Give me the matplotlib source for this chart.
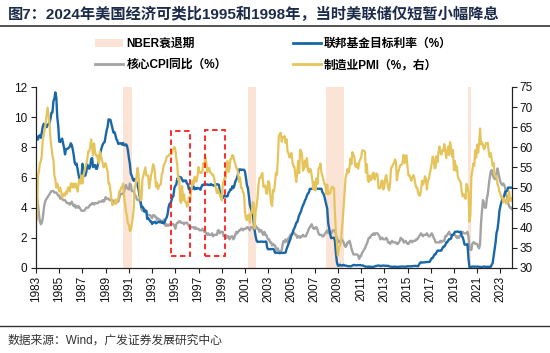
import numpy as np
import matplotlib
matplotlib.use("Agg")
import matplotlib.pyplot as plt
from matplotlib.patches import Rectangle, Patch
from matplotlib.lines import Line2D

plt.rcParams['font.family'] = ['Liberation Sans', 'Noto Sans CJK SC', 'DejaVu Sans']

start_year = 1983
end_year = 2023

# Effective federal funds rate, monthly, 1983-2023 (%)
ffr = [
    8.68, 8.51, 8.77, 8.80, 8.63, 8.98, 9.37, 9.56, 9.45, 9.48, 9.34, 9.47,
    9.56, 9.59, 9.91, 10.29, 10.32, 11.06, 11.23, 11.64, 11.30, 9.99, 9.43, 8.38,
    8.35, 8.50, 8.58, 8.27, 7.97, 7.53, 7.88, 7.90, 7.92, 7.99, 8.05, 8.27,
    8.14, 7.86, 7.48, 6.99, 6.85, 6.92, 6.56, 6.17, 5.89, 5.85, 6.04, 6.91,
    6.43, 6.10, 6.13, 6.37, 6.85, 6.73, 6.58, 6.73, 7.22, 7.29, 6.69, 6.77,
    6.83, 6.58, 6.58, 6.87, 7.09, 7.51, 7.75, 8.01, 8.19, 8.30, 8.35, 8.76,
    9.12, 9.36, 9.85, 9.84, 9.81, 9.53, 9.24, 8.99, 9.02, 8.84, 8.55, 8.45,
    8.23, 8.24, 8.28, 8.26, 8.18, 8.29, 8.15, 8.13, 8.20, 8.11, 7.81, 7.31,
    6.91, 6.25, 6.12, 5.91, 5.78, 5.90, 5.82, 5.66, 5.45, 5.21, 4.81, 4.43,
    4.03, 4.06, 3.98, 3.73, 3.82, 3.76, 3.25, 3.30, 3.22, 3.10, 3.09, 2.92,
    3.02, 3.03, 3.07, 2.96, 3.00, 3.04, 3.06, 3.03, 3.09, 2.99, 3.02, 2.96,
    3.05, 3.25, 3.34, 3.56, 4.01, 4.25, 4.26, 4.47, 4.73, 4.76, 5.29, 5.45,
    5.53, 5.92, 5.98, 6.05, 6.01, 6.00, 5.85, 5.74, 5.80, 5.76, 5.80, 5.60,
    5.56, 5.22, 5.31, 5.22, 5.24, 5.27, 5.40, 5.22, 5.30, 5.24, 5.31, 5.29,
    5.25, 5.19, 5.39, 5.51, 5.50, 5.56, 5.52, 5.54, 5.54, 5.50, 5.52, 5.50,
    5.56, 5.51, 5.49, 5.45, 5.49, 5.56, 5.54, 5.55, 5.51, 5.07, 4.83, 4.68,
    4.63, 4.76, 4.81, 4.74, 4.74, 4.76, 4.99, 5.07, 5.22, 5.20, 5.42, 5.30,
    5.45, 5.73, 5.85, 6.02, 6.27, 6.53, 6.54, 6.50, 6.52, 6.51, 6.51, 6.40,
    5.98, 5.49, 5.31, 4.80, 4.21, 3.97, 3.77, 3.65, 3.07, 2.49, 2.09, 1.82,
    1.73, 1.74, 1.73, 1.75, 1.75, 1.75, 1.73, 1.74, 1.75, 1.75, 1.34, 1.24,
    1.24, 1.26, 1.25, 1.26, 1.26, 1.22, 1.01, 1.03, 1.01, 1.01, 1.00, 0.98,
    1.00, 1.01, 1.00, 1.00, 1.00, 1.03, 1.26, 1.43, 1.61, 1.76, 1.93, 2.16,
    2.28, 2.50, 2.63, 2.79, 3.00, 3.04, 3.26, 3.50, 3.62, 3.78, 4.00, 4.16,
    4.29, 4.49, 4.59, 4.79, 4.94, 4.99, 5.24, 5.25, 5.25, 5.25, 5.25, 5.24,
    5.25, 5.26, 5.26, 5.25, 5.25, 5.25, 5.26, 5.02, 4.94, 4.76, 4.49, 4.24,
    3.94, 2.98, 2.61, 2.28, 1.98, 2.00, 2.01, 2.00, 1.81, 0.97, 0.39, 0.16,
    0.15, 0.22, 0.18, 0.15, 0.18, 0.21, 0.16, 0.16, 0.15, 0.12, 0.12, 0.12,
    0.11, 0.13, 0.16, 0.20, 0.20, 0.18, 0.18, 0.19, 0.19, 0.19, 0.19, 0.18,
    0.17, 0.16, 0.14, 0.10, 0.09, 0.09, 0.07, 0.10, 0.08, 0.07, 0.08, 0.07,
    0.08, 0.10, 0.13, 0.14, 0.16, 0.16, 0.16, 0.13, 0.14, 0.16, 0.16, 0.16,
    0.14, 0.15, 0.14, 0.15, 0.11, 0.09, 0.09, 0.08, 0.08, 0.09, 0.08, 0.09,
    0.07, 0.07, 0.08, 0.09, 0.09, 0.10, 0.09, 0.09, 0.09, 0.09, 0.09, 0.12,
    0.11, 0.11, 0.11, 0.12, 0.12, 0.13, 0.13, 0.14, 0.14, 0.12, 0.12, 0.24,
    0.34, 0.38, 0.36, 0.37, 0.37, 0.38, 0.39, 0.40, 0.40, 0.40, 0.41, 0.54,
    0.65, 0.66, 0.79, 0.90, 0.91, 1.04, 1.15, 1.16, 1.15, 1.15, 1.16, 1.30,
    1.41, 1.42, 1.51, 1.69, 1.70, 1.82, 1.91, 1.91, 1.95, 2.19, 2.20, 2.27,
    2.40, 2.40, 2.41, 2.42, 2.39, 2.38, 2.40, 2.13, 2.04, 1.83, 1.55, 1.55,
    1.55, 1.58, 0.65, 0.05, 0.05, 0.08, 0.09, 0.10, 0.09, 0.09, 0.09, 0.09,
    0.09, 0.08, 0.07, 0.07, 0.06, 0.08, 0.10, 0.09, 0.08, 0.08, 0.08, 0.08,
    0.08, 0.08, 0.20, 0.33, 0.77, 1.21, 1.68, 2.33, 2.56, 3.08, 3.78, 4.10,
    4.33, 4.57, 4.65, 4.83, 5.06, 5.08, 5.12, 5.33, 5.33, 5.33, 5.33, 5.33,
]

# Core CPI, year over year, monthly, 1983-2023 (%)
core_cpi = [
    4.7, 4.2, 3.6, 3.1, 2.9, 3.0, 3.3, 3.9, 4.3, 4.5, 4.6, 4.7,
    4.8, 4.9, 5.0, 5.1, 5.1, 5.1, 5.0, 5.0, 5.0, 4.9, 4.8, 4.8,
    4.6, 4.7, 4.6, 4.5, 4.5, 4.5, 4.4, 4.3, 4.3, 4.3, 4.2, 4.3,
    4.4, 4.2, 4.1, 4.2, 4.0, 4.1, 4.0, 4.1, 4.0, 3.9, 3.8, 3.8,
    3.8, 3.8, 3.9, 4.0, 4.0, 4.0, 4.1, 4.2, 4.2, 4.3, 4.3, 4.2,
    4.3, 4.3, 4.3, 4.3, 4.4, 4.4, 4.4, 4.4, 4.5, 4.4, 4.5, 4.7,
    4.6, 4.6, 4.6, 4.5, 4.5, 4.5, 4.5, 4.4, 4.4, 4.3, 4.4, 4.4,
    4.4, 4.6, 4.9, 4.9, 4.9, 5.0, 5.0, 5.4, 5.5, 5.3, 5.3, 5.2,
    5.6, 5.5, 5.1, 5.1, 5.1, 4.8, 4.8, 4.6, 4.5, 4.5, 4.5, 4.4,
    3.9, 3.8, 3.9, 3.9, 3.8, 3.8, 3.6, 3.5, 3.5, 3.5, 3.4, 3.3,
    3.5, 3.5, 3.4, 3.4, 3.2, 3.3, 3.2, 3.2, 3.1, 3.0, 3.1, 3.2,
    2.9, 2.8, 2.9, 2.8, 2.8, 2.9, 2.9, 2.9, 2.9, 2.9, 2.8, 2.6,
    2.9, 3.0, 3.0, 3.1, 3.1, 3.0, 3.0, 3.0, 2.9, 3.0, 3.0, 3.0,
    2.9, 2.8, 2.7, 2.7, 2.7, 2.7, 2.7, 2.6, 2.7, 2.6, 2.6, 2.6,
    2.5, 2.5, 2.5, 2.6, 2.5, 2.4, 2.4, 2.3, 2.2, 2.3, 2.2, 2.2,
    2.2, 2.3, 2.1, 2.2, 2.2, 2.2, 2.2, 2.5, 2.5, 2.3, 2.4, 2.4,
    2.4, 2.1, 2.1, 2.2, 2.0, 2.1, 2.1, 1.9, 2.0, 2.1, 2.1, 1.9,
    2.0, 2.2, 2.4, 2.3, 2.4, 2.5, 2.5, 2.6, 2.6, 2.5, 2.6, 2.6,
    2.6, 2.7, 2.7, 2.6, 2.5, 2.7, 2.7, 2.7, 2.6, 2.6, 2.8, 2.7,
    2.6, 2.6, 2.4, 2.5, 2.5, 2.3, 2.2, 2.4, 2.2, 2.2, 2.0, 1.9,
    1.9, 1.7, 1.7, 1.5, 1.6, 1.5, 1.5, 1.3, 1.2, 1.3, 1.1, 1.1,
    1.1, 1.2, 1.6, 1.8, 1.7, 1.9, 1.8, 1.7, 2.0, 2.0, 2.2, 2.2,
    2.3, 2.4, 2.3, 2.2, 2.2, 2.0, 2.1, 2.1, 2.0, 2.1, 2.1, 2.2,
    2.1, 2.1, 2.1, 2.3, 2.4, 2.6, 2.7, 2.8, 2.9, 2.7, 2.6, 2.6,
    2.7, 2.7, 2.5, 2.3, 2.2, 2.2, 2.2, 2.1, 2.1, 2.2, 2.3, 2.4,
    2.5, 2.3, 2.4, 2.3, 2.3, 2.4, 2.5, 2.5, 2.5, 2.2, 2.0, 1.8,
    1.7, 1.8, 1.8, 1.9, 1.8, 1.7, 1.5, 1.4, 1.5, 1.7, 1.7, 1.8,
    1.6, 1.3, 1.1, 0.9, 0.9, 0.9, 0.9, 0.9, 0.8, 0.6, 0.8, 0.8,
    1.0, 1.1, 1.2, 1.3, 1.5, 1.6, 1.8, 2.0, 2.0, 2.1, 2.2, 2.2,
    2.3, 2.2, 2.3, 2.3, 2.3, 2.2, 2.1, 1.9, 2.0, 2.0, 1.9, 1.9,
    1.9, 2.0, 1.9, 1.7, 1.7, 1.6, 1.7, 1.8, 1.7, 1.7, 1.7, 1.7,
    1.6, 1.6, 1.7, 1.8, 2.0, 1.9, 1.9, 1.7, 1.7, 1.8, 1.7, 1.6,
    1.6, 1.7, 1.8, 1.8, 1.7, 1.8, 1.8, 1.8, 1.9, 1.9, 2.0, 2.1,
    2.2, 2.3, 2.2, 2.1, 2.2, 2.2, 2.2, 2.3, 2.2, 2.1, 2.1, 2.2,
    2.3, 2.2, 2.0, 1.9, 1.7, 1.7, 1.7, 1.7, 1.7, 1.8, 1.7, 1.8,
    1.8, 1.8, 2.1, 2.1, 2.2, 2.3, 2.4, 2.2, 2.2, 2.1, 2.2, 2.2,
    2.2, 2.1, 2.0, 2.1, 2.0, 2.1, 2.2, 2.4, 2.4, 2.3, 2.3, 2.3,
    2.3, 2.4, 2.1, 1.4, 1.2, 1.2, 1.6, 1.7, 1.7, 1.6, 1.6, 1.6,
    1.4, 1.3, 1.6, 3.0, 3.8, 4.5, 4.3, 4.0, 4.0, 4.6, 4.9, 5.5,
    6.0, 6.4, 6.5, 6.2, 6.0, 5.9, 5.9, 6.3, 6.6, 6.3, 6.0, 5.7,
    5.6, 5.5, 5.6, 5.5, 5.3, 4.8, 4.7, 4.3, 4.1, 4.0, 4.0, 3.9,
]

# ISM manufacturing PMI, monthly, 1983-2023 (right axis)
pmi = [
    42.0, 53.0, 54.0, 56.0, 56.5, 58.0, 62.0, 63.0, 64.5, 66.0, 68.0, 69.9,
    68.0, 66.0, 62.0, 60.0, 58.0, 57.0, 53.0, 52.0, 50.0, 51.0, 50.0, 49.0,
    50.0, 49.0, 47.5, 48.0, 48.5, 48.0, 49.0, 48.5, 50.0, 50.0, 49.0, 51.0,
    51.0, 50.0, 51.0, 50.0, 51.0, 50.0, 49.0, 51.0, 52.0, 51.0, 53.0, 51.0,
    53.0, 54.0, 55.0, 56.0, 57.0, 59.0, 59.0, 60.0, 62.0, 60.0, 58.0, 61.0,
    59.0, 58.0, 58.0, 57.0, 56.0, 59.0, 58.0, 57.0, 56.0, 55.0, 56.0, 56.0,
    55.0, 54.0, 51.0, 51.0, 49.0, 47.0, 45.6, 46.0, 46.0, 47.0, 46.0, 47.0,
    47.0, 49.0, 49.0, 50.0, 50.0, 51.0, 48.0, 46.0, 44.0, 43.0, 41.0, 40.8,
    39.2, 39.4, 40.7, 42.7, 44.5, 50.3, 50.6, 52.9, 54.9, 53.1, 49.5, 46.8,
    47.0, 52.0, 53.0, 54.0, 55.0, 53.0, 53.0, 53.0, 49.8, 51.5, 53.1, 54.2,
    55.8, 55.2, 53.4, 50.2, 51.2, 49.6, 50.2, 50.7, 50.8, 53.4, 53.8, 55.6,
    56.0, 56.5, 57.6, 57.8, 57.8, 58.3, 58.3, 58.2, 59.3, 59.6, 60.1, 59.4,
    57.3, 55.7, 51.8, 52.4, 46.6, 46.2, 50.4, 46.9, 48.3, 46.5, 46.5, 45.3,
    45.6, 47.6, 46.4, 48.5, 50.3, 51.7, 50.9, 52.7, 51.5, 51.6, 53.0, 55.1,
    53.7, 53.8, 53.6, 54.2, 56.1, 55.6, 57.5, 56.4, 53.8, 54.4, 54.9, 53.8,
    53.6, 53.2, 53.2, 52.5, 51.0, 49.7, 48.6, 49.6, 48.8, 48.2, 47.5, 46.8,
    50.6, 51.7, 52.4, 52.3, 55.2, 56.6, 53.9, 54.7, 57.0, 57.2, 58.1, 57.8,
    56.7, 55.8, 54.9, 54.7, 53.2, 51.4, 52.5, 49.9, 49.9, 48.7, 48.5, 43.9,
    42.3, 41.9, 43.1, 43.2, 41.3, 43.6, 43.6, 46.4, 46.2, 39.8, 44.1, 45.3,
    47.5, 50.7, 52.4, 52.4, 53.1, 53.6, 50.2, 50.3, 50.5, 48.5, 48.5, 51.6,
    51.3, 48.8, 46.1, 45.4, 49.4, 49.0, 51.0, 53.7, 53.1, 57.0, 62.8, 63.4,
    63.6, 61.4, 62.5, 62.4, 62.8, 61.1, 62.0, 59.0, 58.5, 57.5, 57.8, 58.6,
    56.4, 55.3, 55.2, 53.3, 51.4, 53.8, 56.6, 53.6, 59.4, 59.1, 58.1, 54.2,
    54.8, 56.7, 55.2, 57.3, 54.4, 53.8, 54.7, 54.5, 52.9, 51.2, 49.5, 51.4,
    49.3, 52.3, 50.9, 54.7, 55.0, 56.0, 53.8, 52.9, 52.0, 50.9, 50.8, 48.4,
    50.7, 48.3, 48.6, 48.6, 49.6, 50.2, 50.0, 49.9, 43.5, 38.9, 36.2, 33.1,
    34.9, 35.5, 36.0, 39.5, 41.7, 45.3, 49.1, 52.4, 53.4, 54.6, 53.7, 54.9,
    57.2, 55.8, 58.8, 58.1, 57.8, 55.3, 55.1, 56.0, 54.7, 56.3, 57.0, 57.3,
    59.0, 59.3, 59.1, 58.9, 53.7, 55.8, 51.9, 51.4, 53.0, 51.8, 52.2, 53.5,
    53.7, 52.0, 53.0, 53.5, 53.2, 49.9, 49.8, 49.9, 51.7, 51.7, 49.5, 50.2,
    52.3, 53.1, 51.5, 50.0, 49.3, 51.1, 54.9, 55.0, 55.8, 56.0, 57.0, 56.5,
    51.8, 53.4, 54.4, 55.3, 55.6, 55.7, 56.4, 58.1, 56.1, 57.9, 58.0, 55.1,
    53.0, 53.1, 52.3, 51.7, 52.6, 53.1, 52.5, 51.0, 50.0, 50.0, 48.8, 48.0,
    48.0, 49.5, 51.7, 50.7, 51.4, 52.8, 52.3, 49.5, 51.7, 52.0, 53.5, 54.5,
    56.0, 57.7, 57.2, 54.8, 54.9, 57.8, 56.3, 58.8, 60.2, 58.7, 58.2, 59.3,
    59.1, 60.8, 59.3, 57.3, 58.7, 60.2, 58.1, 61.3, 59.8, 57.7, 59.3, 54.3,
    56.6, 54.2, 55.3, 52.8, 52.1, 51.7, 51.2, 49.1, 47.8, 48.3, 48.1, 47.2,
    50.9, 50.1, 49.1, 41.5, 43.1, 52.6, 54.2, 56.0, 55.4, 59.3, 57.5, 60.7,
    58.7, 60.8, 64.7, 60.7, 61.2, 60.6, 59.5, 59.9, 61.1, 60.8, 61.1, 58.8,
    57.6, 58.6, 57.1, 55.4, 56.1, 53.0, 52.8, 52.8, 50.9, 50.2, 49.0, 48.4,
    47.4, 47.7, 46.3, 47.1, 46.9, 46.0, 46.4, 47.6, 49.0, 46.7, 46.7, 47.4,
]

# NBER recessions (start, end) in fractional years
recessions = [(1990.5, 1991.25), (2001.25, 2001.95), (2008.0, 2009.55), (2020.25, 2020.45)]
# Highlight boxes (x0, x1, y0, y1) on left axis
highlights = [(1994.6, 1996.3, 0.8, 9.1), (1997.55, 1999.3, 0.8, 9.15)]

xtick_years = list(range(1983, 2024, 2))

title = "图7：2024年美国经济可类比1995和1998年，当时美联储仅短暂小幅降息"
source = "数据来源：Wind，广发证券发展研究中心"
lbl_nber = "NBER衰退期"
lbl_ffr = "联邦基金目标利率（%）"
lbl_cpi = "核心CPI同比（%）"
lbl_pmi = "制造业PMI（%，右）"

C_BLUE = "#1a67a8"
C_GRAY = "#a3a3a3"
C_YEL = "#e6c45c"
C_NBER = "#fbe3d6"

n = len(ffr)
x = start_year + (np.arange(n) + 1) / 12.0

fig = plt.figure(figsize=(5.5, 3.53), dpi=100)
W, H = 550, 353
L, R, T, B = 36, 512, 87, 268
ax = fig.add_axes([L / W, 1 - B / H, (R - L) / W, (B - T) / H])
ax2 = ax.twinx()

for s, e in recessions:
    ax.axvspan(s, e, color=C_NBER, lw=0, zorder=0)

ax.plot(x, core_cpi, color=C_GRAY, lw=1.7, zorder=2)
ax.plot(x, ffr, color=C_BLUE, lw=1.7, zorder=3)
ax2.plot(x, pmi, color=C_YEL, lw=1.6, zorder=2)

for x0, x1, y0, y1 in highlights:
    ax2.add_patch(Rectangle((x0, y0), x1 - x0, y1 - y0, transform=ax.transData,
                            fill=False, edgecolor="#ff1a1a", lw=1.3,
                            linestyle=(0, (3, 2)), zorder=5))

ax.set_xlim(start_year, end_year + 1)
ax.set_ylim(0, 12)
ax2.set_ylim(30, 75)
ax.set_yticks(range(0, 13, 2))
ax2.set_yticks(range(30, 76, 5))
ax.set_xticks(xtick_years)
ax.set_xticklabels([str(v) for v in xtick_years], rotation=90)

for a in (ax, ax2):
    a.spines['top'].set_visible(False)
    for sp in a.spines.values():
        sp.set_color("#222222")
        sp.set_linewidth(0.8)
    a.tick_params(direction='out', length=3.5, width=0.8, labelsize=8.5, colors="#222222", labelcolor="#111111", pad=2)
ax.tick_params(axis='y', pad=3)

handles = [Patch(facecolor=C_NBER, edgecolor='none'),
           Line2D([], [], color=C_GRAY, lw=2),
           Line2D([], [], color=C_BLUE, lw=2),
           Line2D([], [], color=C_YEL, lw=2)]
labels = [lbl_nber, lbl_cpi, lbl_ffr, lbl_pmi]
fig.legend(handles, labels, ncol=2, loc='upper left', bbox_to_anchor=(95 / W, 1 - 38 / H),
           frameon=False, prop={'size': 8.5, 'weight': 'bold'}, handlelength=2.4,
           handletextpad=0.25, columnspacing=5.6, labelspacing=0.78, borderaxespad=0, borderpad=0)

fig.text(8 / W, 1 - 14 / H, title, fontsize=11, weight='bold', color="#1c2b4a", va='center', ha='left')
fig.add_artist(Line2D([0, 1], [1 - 26 / H, 1 - 26 / H], color="#333333", lw=1.2, transform=fig.transFigure))
fig.add_artist(Line2D([0, 1], [1 - 326 / H, 1 - 326 / H], color="#333333", lw=1.0, transform=fig.transFigure))
fig.text(8 / W, 1 - 341 / H, source, fontsize=8.5, color="#333333", va='center', ha='left')

fig.savefig("out.png", dpi=100)
